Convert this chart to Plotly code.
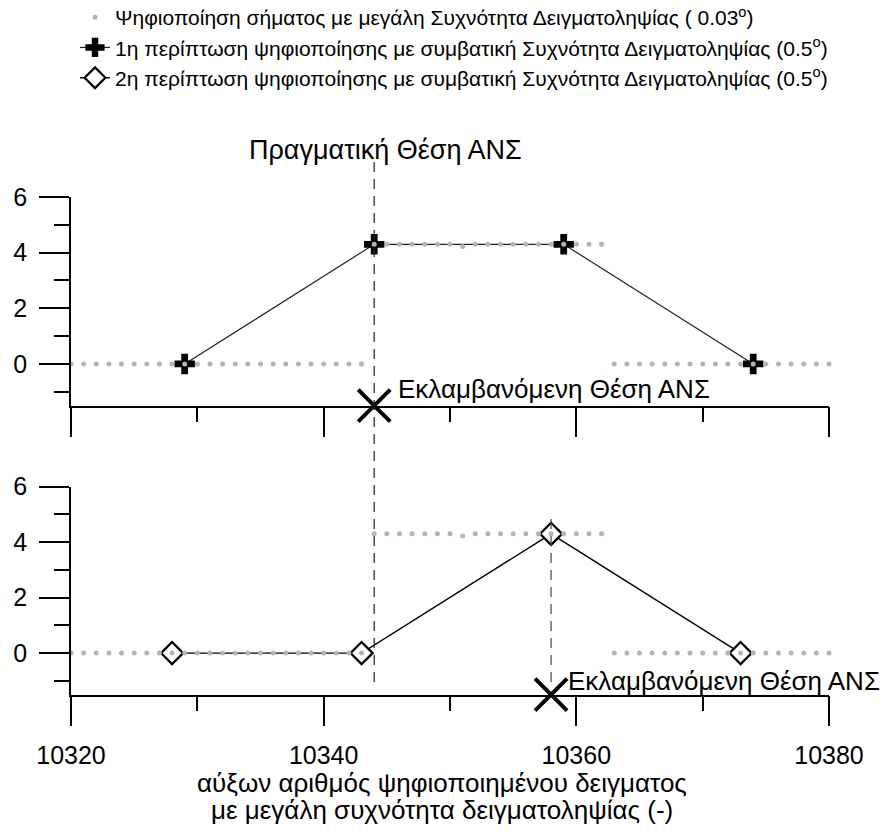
import plotly.graph_objects as go

# High-rate digitised signal (one sample per index)
fine_x = list(range(10320, 10381))
fine_y = ([0.0] * 24 +                       # 10320 .. 10343
          [4.3] * 7 + [4.22] + [4.3] * 11 +  # 10344 .. 10362
          [0.0] * 18)                        # 10363 .. 10380

# Case 1: conventional sampling (0.5 deg)
case1_x = [10329, 10344, 10359, 10374]
case1_y = [0.0, 4.3, 4.3, 0.0]

# Case 2: conventional sampling (0.5 deg)
case2_x = [10328, 10343, 10358, 10373]
case2_y = [0.0, 0.0, 4.3, 0.0]

true_pos = 10344
perceived_top = 10344
perceived_bottom = 10358
axis_floor = -1.5

x_ticks = [10320, 10340, 10360, 10380]
x_ticktext = ["10320", "10340", "10360", "10380"]
y_ticks = [0, 2, 4, 6]

legend_names = [
    "Ψηφιοποίηση σήματος με μεγάλη Συχνότητα Δειγματοληψίας ( 0.03<sup>ο</sup>)",
    "1η περίπτωση ψηφιοποίησης με συμβατική Συχνότητα Δειγματοληψίας (0.5<sup>ο</sup>)",
    "2η περίπτωση ψηφιοποίησης με συμβατική Συχνότητα Δειγματοληψίας (0.5<sup>ο</sup>)",
]
true_label = "Πραγματική Θέση ΑΝΣ"
perceived_label = "Εκλαμβανόμενη Θέση ΑΝΣ"
x_title_lines = ["αύξων αριθμός ψηφιοποιημένου δειγματος",
                 "με μεγάλη συχνότητα δειγματοληψίας (-)"]

FONT = "Arial, 'Liberation Sans', sans-serif"
W, H = 886, 832
GREY = "#b4b4b4"

fig = go.Figure()

# Case 1 (top panel)
fig.add_trace(go.Scatter(
    x=case1_x, y=case1_y, mode="lines+markers", xaxis="x", yaxis="y",
    line=dict(color="#222222", width=1.2),
    marker=dict(symbol="cross", size=17, color="black"),
    name=legend_names[1], legendrank=2, cliponaxis=False))
# Case 2 (bottom panel)
fig.add_trace(go.Scatter(
    x=case2_x, y=case2_y, mode="lines+markers", xaxis="x2", yaxis="y2",
    line=dict(color="black", width=1.4),
    marker=dict(symbol="diamond", size=17, color="white",
                line=dict(color="black", width=2.2)),
    name=legend_names[2], legendrank=3, cliponaxis=False))

# Fine signal drawn over both panels
for xa, ya, show in (("x", "y", True), ("x2", "y2", False)):
    fig.add_trace(go.Scatter(
        x=fine_x, y=fine_y, mode="markers", xaxis=xa, yaxis=ya,
        marker=dict(symbol="circle", size=5, color=GREY),
        name=legend_names[0], legendrank=1,
        showlegend=show, cliponaxis=False))

# Perceived positions (crosses on the axis floor)
for xa, ya, px in (("x", "y", perceived_top), ("x2", "y2", perceived_bottom)):
    fig.add_trace(go.Scatter(
        x=[px], y=[axis_floor], mode="markers", xaxis=xa, yaxis=ya,
        marker=dict(symbol="x-thin", size=32,
                    line=dict(color="black", width=4)),
        showlegend=False, cliponaxis=False, hoverinfo="skip"))

top_dom = [1 - 405.7 / H, 1 - 197 / H]
bot_dom = [1 - 694.7 / H, 1 - 486.7 / H]
x_dom = [71 / W, 829 / W]

xcommon = dict(
    range=[10320, 10380], domain=x_dom, showgrid=False, zeroline=False,
    automargin=False,
    showline=True, linecolor="black", linewidth=1.5,
    ticks="outside", ticklen=30, tickwidth=1.5, tickcolor="black",
    tickvals=x_ticks, ticktext=x_ticktext,
    minor=dict(dtick=10, tick0=10320, ticks="outside", ticklen=15,
               tickwidth=1.5, tickcolor="black"),
    tickfont=dict(family=FONT, size=25, color="black"),
)
ycommon = dict(
    range=[-1.5, 6], showgrid=False, zeroline=False, automargin=False,
    showline=True, linecolor="black", linewidth=1.5,
    ticks="outside", ticklen=30, tickwidth=1.5, tickcolor="black",
    tickvals=y_ticks, ticklabelstandoff=7,
    minor=dict(dtick=1, tick0=0, ticks="outside", ticklen=15,
               tickwidth=1.5, tickcolor="black"),
    tickfont=dict(family=FONT, size=25, color="black"),
)

fig.update_layout(
    width=W, height=H, margin=dict(l=0, r=0, t=0, b=0, autoexpand=False),
    paper_bgcolor="white", plot_bgcolor="rgba(0,0,0,0)",
    font=dict(family=FONT, color="black"),
    xaxis=dict(xcommon, anchor="y", showticklabels=False),
    yaxis=dict(ycommon, anchor="x", domain=top_dom),
    xaxis2=dict(xcommon, anchor="y2", ticklabelstandoff=8),
    yaxis2=dict(ycommon, anchor="x2", domain=bot_dom),
    legend=dict(x=75 / W, y=1 + 3 / H, xanchor="left", yanchor="top",
                font=dict(family=FONT, size=21, color="black"),
                traceorder="normal",
                bgcolor="rgba(0,0,0,0)", itemsizing="trace"),
    showlegend=True,
)

# Vertical reference lines
fig.add_shape(type="line", xref="x", yref="paper",
              x0=true_pos, x1=true_pos, y0=1 - 682 / H, y1=1 - 157 / H,
              line=dict(color="#222222", width=1.2, dash="10px,7px"))
fig.add_shape(type="line", xref="x2", yref="paper",
              x0=perceived_bottom, x1=perceived_bottom,
              y0=1 - 682 / H, y1=1 - 513 / H,
              line=dict(color="#444444", width=1.2, dash="10px,7px"))

# Text labels
fig.add_annotation(x=true_pos, xref="x", y=1 - 150 / H, yref="paper",
                   text=true_label, showarrow=False, xanchor="center",
                   yanchor="middle", xshift=11,
                   font=dict(family=FONT, size=27, color="black"))
fig.add_annotation(x=perceived_top, y=axis_floor, xref="x", yref="y",
                   text=perceived_label, showarrow=False, xanchor="left",
                   yanchor="middle", xshift=22, yshift=17,
                   font=dict(family=FONT, size=26, color="black"))
fig.add_annotation(x=perceived_bottom, y=axis_floor, xref="x2", yref="y2",
                   text=perceived_label, showarrow=False, xanchor="left",
                   yanchor="middle", xshift=15, yshift=14,
                   font=dict(family=FONT, size=26, color="black"))

# Two-line axis title under the bottom panel
for line_text, ypix in zip(x_title_lines, (783, 810)):
    fig.add_annotation(x=0.5, xref="x2 domain", y=1 - ypix / H, yref="paper",
                       text=line_text, showarrow=False, xanchor="center",
                       yanchor="middle", xshift=-8,
                       font=dict(family=FONT, size=26, color="black"))

fig.write_html("out.html")
